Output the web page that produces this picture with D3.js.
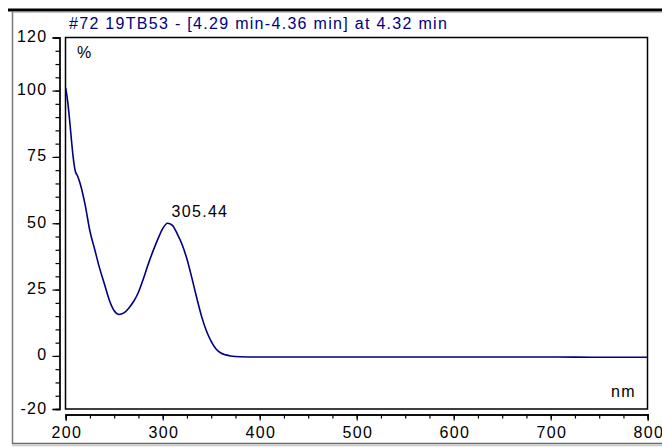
<!DOCTYPE html>
<html><head><meta charset="utf-8">
<script src="https://cdn.jsdelivr.net/npm/d3@7"></script>
<style>
html,body{margin:0;padding:0;background:#fff;}
svg{display:block;}
text{font-family:"Liberation Sans",Arial,sans-serif;}
</style></head>
<body>
<svg id="chart" width="662" height="447"></svg>
<script>
const title = "#72 19TB53 - [4.29 min-4.36 min] at 4.32 min";
const peakLabel = "305.44";
const peakWavelength = 305;
const yUnit = "%";
const xUnit = "nm";
const wavelengths = [200,202,204,206,208,210,212,214,216,220,225,230,235,240,245,250,255,260,265,270,275,280,285,290,295,300,305,310,315,320,325,330,335,340,345,350,355,360,365,370,380,400,450,500,550,600,650,700,750,800];
const absorbance  = [101,96,89,81,74,69.5,68,66,63.5,57,47,40,33,27,21,17,15.6,16.2,18,20.5,24,29,34.5,39.5,44,48,50,49.2,46,42,36.5,29.5,22,15,9.5,5.5,2.6,1.1,0.4,0,-0.3,-0.4,-0.4,-0.4,-0.4,-0.4,-0.4,-0.4,-0.5,-0.5];
const yTickLabels = [-20,0,25,50,75,100,120];
const xTickLabels = [200,300,400,500,600,700,800];

const svg = d3.select("#chart");
const navy = "#000080";
const LS = "1.3px";

// outer frame
svg.append("rect").attr("x",8).attr("y",8.5).attr("width",660).attr("height",3).attr("fill","#000");
svg.append("line").attr("x1",12.5).attr("x2",662).attr("y1",12).attr("y2",12).attr("stroke","#8a8a8a").attr("stroke-width",1);
svg.append("line").attr("x1",12.5).attr("x2",12.5).attr("y1",11).attr("y2",444).attr("stroke","#7a7a7a").attr("stroke-width",1.5);
svg.append("line").attr("x1",12).attr("x2",662).attr("y1",443.5).attr("y2",443.5).attr("stroke","#6a6a6a").attr("stroke-width",1.5);
svg.append("line").attr("x1",12).attr("x2",662).attr("y1",445.5).attr("y2",445.5).attr("stroke","#c8c8c8").attr("stroke-width",1.5);

const x = d3.scaleLinear().domain([200,800]).range([65.7,647.7]);
const y = d3.scaleLinear().domain([-20,120]).range([409,37.5]);

// plot box
svg.append("rect").attr("x",65.5).attr("y",37.5).attr("width",582).attr("height",371.5)
  .attr("fill","none").attr("stroke","#000").attr("stroke-width",1.5);

// y axis
const yMinor = d3.range(-20,121,5);
const yAxisMinor = d3.axisLeft(y).tickValues(yMinor).tickSize(4).tickFormat("");
const yAxisMajor = d3.axisLeft(y).tickValues(yTickLabels).tickSize(7).tickPadding(5).tickFormat(d=>String(d));
const gy1 = svg.append("g").attr("transform","translate(59.5,0)").call(yAxisMinor);
const gy2 = svg.append("g").attr("transform","translate(59.5,0)").call(yAxisMajor);
[gy1,gy2].forEach(g=>{
  g.select(".domain").attr("stroke","#000").attr("stroke-width",1.3);
  g.selectAll(".tick line").attr("stroke","#000").attr("stroke-width",1.2);
});
gy2.selectAll("text").attr("font-size",16).attr("fill","#000").attr("letter-spacing",LS)
  .attr("font-family","Liberation Sans, Arial, sans-serif").attr("dy","0.25em");

// x axis
const xMinor = d3.range(200,801,25);
const xAxisMinor = d3.axisBottom(x).tickValues(xMinor).tickSize(4).tickFormat("");
const xAxisMajor = d3.axisBottom(x).tickValues(xTickLabels).tickSize(6).tickPadding(6).tickFormat(d=>String(d));
const gx1 = svg.append("g").attr("transform","translate(0,414.5)").call(xAxisMinor);
const gx2 = svg.append("g").attr("transform","translate(0,414.5)").call(xAxisMajor);
[gx1,gx2].forEach(g=>{
  g.select(".domain").attr("stroke","#000").attr("stroke-width",1.3);
  g.selectAll(".tick line").attr("stroke","#000").attr("stroke-width",1.2);
});
gx2.selectAll("text").attr("font-size",16).attr("fill","#000").attr("letter-spacing",LS)
  .attr("font-family","Liberation Sans, Arial, sans-serif").attr("dx","0.6px");

// title
svg.append("text").attr("x",69).attr("y",29).attr("font-size",16).attr("letter-spacing",LS).attr("fill",navy).text(title);
svg.append("text").attr("x",77).attr("y",58).attr("font-size",16).attr("letter-spacing",LS).attr("fill","#000").text(yUnit);
svg.append("text").attr("x",611).attr("y",397).attr("font-size",16).attr("letter-spacing",LS).attr("fill","#000").text(xUnit);

// curve
const data = wavelengths.map((w,i)=>[w,absorbance[i]]);
const line = d3.line().x(d=>x(d[0])).y(d=>y(d[1])).curve(d3.curveMonotoneX);
svg.append("path").datum(data).attr("d",line).attr("fill","none").attr("stroke",navy).attr("stroke-width",1.6);

// peak label
const pi = wavelengths.indexOf(peakWavelength);
svg.append("text").attr("x",x(peakWavelength)+4).attr("y",y(absorbance[pi])-6)
  .attr("font-size",16).attr("letter-spacing",LS).attr("fill","#000").text(peakLabel);
</script>
</body></html>
